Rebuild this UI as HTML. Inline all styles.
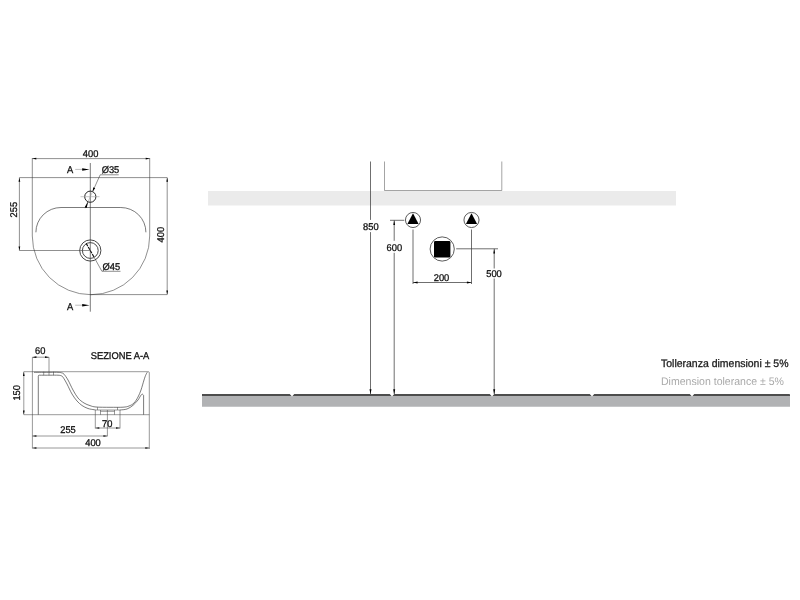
<!DOCTYPE html>
<html><head><meta charset="utf-8">
<style>
html,body{margin:0;padding:0;background:#fff;}
body{width:800px;height:600px;overflow:hidden;font-family:"Liberation Sans",sans-serif;}
svg{display:block;transform:translateZ(0);will-change:transform;}
text{font-family:"Liberation Sans",sans-serif;text-rendering:geometricPrecision;}
</style></head><body>
<svg width="800" height="600" viewBox="0 0 800 600">
<rect width="800" height="600" fill="#fff"/>

<!-- ===== installation view ===== -->
<rect x="208" y="191" width="468" height="14.5" fill="#ebebeb"/>
<!-- floor -->
<g id="floor">
<path d="M202,406.8 V394 H789 Q790,394 790,395 V406.8 Z" fill="#b1b2b4"/>
<path d="M202,394 H789 Q790,394 790,395 V396 H202 Z" fill="#4d4d4d"/>
<path d="M289.3,393.5 L292,396.4 L294.7,393.5 Z M389.3,393.5 L392,396.4 L394.7,393.5 Z M489.3,393.5 L492,396.4 L494.7,393.5 Z M589.3,393.5 L592,396.4 L594.7,393.5 Z M689.3,393.5 L692,396.4 L694.7,393.5 Z" fill="#fff"/>
</g>
<g fill="none" stroke="#3f3f3f" stroke-width="0.75">
<!-- basin outline -->
<path d="M384.5,161.5 V190.5 H501.8 V161.5" stroke="#666" stroke-width="0.6"/>
<!-- 850 -->
<path d="M370.5,161.5 V219.9 M370.5,232.1 V394"/>
<!-- 600 -->
<path d="M390,220.3 H404.3 M394.2,220.3 V240.8 M394.2,252.8 V394"/>
<!-- tri verticals + 200 -->
<path d="M413,229.5 V284 M471.5,229.5 V284 M413,282.5 H471.5"/>
<!-- 500 -->
<path d="M456.2,248.8 H498 M494.2,248.8 V268.5 M494.2,278.5 V394"/>
<circle cx="413" cy="220" r="7.55" stroke-width="0.85"/>
<circle cx="471.5" cy="220" r="7.55" stroke-width="0.85"/>
<circle cx="442.2" cy="249" r="12.1" stroke-width="0.85"/>
</g>
<g fill="#000">
<path d="M413,213.3 L418.6,224 H407.4 Z"/>
<path d="M471.5,213.3 L477.1,224 H465.9 Z"/>
<rect x="434" y="241" width="16.4" height="16.4" rx="1.2"/>
<!-- arrows -->
<path d="M370.5,394.3 l-1,-5 h2 Z M394.2,394.3 l-1,-5 h2 Z M494.2,394.3 l-1,-5 h2 Z"/>
<path d="M394.2,220.4 l-0.9,4.6 h1.8 Z M494.2,249 l-0.9,4.6 h1.8 Z"/>
<path d="M413,282.5 l4.6,-0.9 v1.8 Z M471.5,282.5 l-4.6,-0.9 v1.8 Z"/>
</g>
<g font-size="9.8" stroke="#111" stroke-width="0.3" fill="#111" text-anchor="middle">
<text transform="translate(370.8,230.3) scale(0.95,1)">850</text>
<text transform="translate(394.3,250.7) scale(0.95,1)">600</text>
<text transform="translate(441.5,280.8) scale(0.95,1)">200</text>
<text transform="translate(494.0,276.6) scale(0.95,1)">500</text>
</g>
<text x="661" y="366.6" font-size="11" fill="#222" stroke="#222" stroke-width="0.3" textLength="127.5" lengthAdjust="spacingAndGlyphs">Tolleranza dimensioni ± 5%</text>
<text x="661" y="385.2" font-size="11" fill="#a9a9a9" textLength="123" lengthAdjust="spacingAndGlyphs">Dimension tolerance ± 5%</text>

<!-- ===== top view ===== -->
<g fill="none" stroke="#333" stroke-width="0.55">
<!-- 400 horizontal dim -->
<path d="M32.3,158.6 H149.7 M32.3,158 V236 M149.7,158 V236"/>
<!-- top line -->
<path d="M19.4,177.6 H167.2"/>
<!-- 255 dim -->
<path d="M19.4,177.6 V250.5 H90.3"/>
<!-- 400 vertical dim -->
<path d="M167.2,177.6 V294.6 H90.3"/>
<!-- outer shape -->
<path d="M32.3,236 A58.7,58.7 0 0 0 149.7,236"/>
<!-- center line -->
<path d="M90.3,163 V311.7" stroke="#333" stroke-width="0.65"/>
<!-- inner basin -->
<path d="M35.9,232.3 A25.1,24.8 0 0 1 61,207.5 H120.8 A25.1,24.8 0 0 1 145.9,232.3" stroke="#333" stroke-width="0.65"/>
<!-- tap hole -->
<circle cx="90.3" cy="196.7" r="5.6" stroke="#222" stroke-width="1"/>
<path d="M80.5,196.7 H99.5" stroke="#999"/>
<!-- drain -->
<circle cx="90.3" cy="250.5" r="10.6" stroke="#333" stroke-width="0.9"/>
<circle cx="90.3" cy="250.5" r="7.9" stroke="#333" stroke-width="0.9"/>
<!-- leaders -->
<path d="M118.7,174.8 H100.2 L92.6,191.6 M88,201.8 L85.2,208.2"/><path d="M92.6,191.6 L88,201.8" stroke="#999"/>
<path d="M120.5,271.3 H101.9 L94.2,257.4"/>
<!-- section arrows -->
<path d="M75.2,169.4 H84 M75.2,305.2 H84" stroke="#888"/>
</g>
<g fill="#000">
<path d="M89.6,169.4 l-7.4,-1.25 v2.5 Z M89.6,305.2 l-7.4,-1.25 v2.5 Z"/>
<path d="M32.3,158.6 l4,-0.85 v1.7 Z M149.7,158.6 l-4,-0.85 v1.7 Z"/>
<path d="M19.4,177.8 l-0.85,4 h1.7 Z M19.4,250.4 l-0.85,-4 h1.7 Z"/>
<path d="M167.2,177.8 l-0.85,4 h1.7 Z M167.2,294.5 l-0.85,-4 h1.7 Z"/>
<!-- leader arrows -->
<path d="M92.5,191.8 l2.7,-3.6 l-1.9,-0.9 Z M88.1,201.6 l-3.4,5.6 l2,0.9 Z"/>
<path d="M86.2,243.4 L94.3,257.6" stroke="#111" stroke-width="1.15" stroke-dasharray="3.2 0.9" fill="none"/>
</g>
<g font-size="9.8" stroke="#111" stroke-width="0.3" fill="#111">
<text transform="translate(90.6,156.6) scale(0.95,1)" text-anchor="middle">400</text>
<text transform="translate(67.0,172.6) scale(0.95,1)">A</text>
<text transform="translate(67.0,309.8) scale(0.95,1)">A</text>
<text transform="translate(101.7,173.0) scale(0.95,1)">Ø35</text>
<text transform="translate(102.6,269.8) scale(0.95,1)">Ø45</text>
<text transform="translate(16.7,209.7) rotate(-90) scale(0.95,1)" text-anchor="middle">255</text>
<text transform="translate(163.7,234.7) rotate(-90) scale(0.95,1)" text-anchor="middle">400</text>
</g>

<!-- ===== section view ===== -->
<g fill="none" stroke="#444" stroke-width="0.55">
<!-- 60 dim -->
<path d="M32.4,357.2 H49 M49,357.2 V375.2"/>
<!-- left ext -->
<path d="M32.4,357.2 V448.5"/>
<!-- top & bottom lines -->
<path d="M23.8,371.7 H148.3 Q149.3,371.7 149.3,372.7 V449"/>
<path d="M23.8,414.7 H149.3"/>
<path d="M23.8,371.7 V414.7"/>
<!-- inner cavity -->
<path d="M38.3,414.7 V376.2 Q38.3,375.2 39.3,375.2 C41.1,375.2 46.9,375.2 50.0,375.2 C53.1,375.2 56.2,375.1 58.0,375.2 C59.8,375.3 60.2,375.4 61.0,375.7 C61.8,376.0 62.0,375.8 63.0,377.2 C64.0,378.6 65.5,381.2 67.0,384.0 C68.5,386.8 70.3,391.2 72.0,394.0 C73.7,396.8 75.3,399.1 77.0,401.0 C78.7,402.9 80.2,404.2 82.0,405.5 C83.8,406.8 86.0,407.8 88.0,408.5 C90.0,409.2 92.8,409.5 94.0,409.7 C95.2,409.9 95.1,409.9 95.3,409.9" stroke="#333" stroke-width="0.65"/>
<!-- upper curve -->
<path d="M34.0,372.3 C36.7,372.3 46.0,372.3 50.0,372.3 C54.0,372.3 56.1,372.2 58.0,372.3 C59.9,372.4 60.5,372.5 61.5,372.8 C62.5,373.1 62.9,373.0 64.0,374.2 C65.1,375.4 66.5,377.4 68.0,380.0 C69.5,382.6 71.3,387.0 73.0,390.0 C74.7,393.0 76.2,395.8 78.0,398.0 C79.8,400.2 82.0,401.7 84.0,403.0 C86.0,404.3 88.0,404.9 90.0,405.6 C92.0,406.3 92.7,406.7 96.0,407.0 C99.3,407.3 105.5,407.3 110.0,407.3 C114.5,407.3 119.8,407.4 123.0,407.2 C126.2,407.0 127.2,406.7 129.0,406.0 C130.8,405.3 132.5,404.5 134.0,403.0 C135.5,401.5 136.8,399.2 138.0,397.0 C139.2,394.8 140.0,392.8 141.0,390.0 C142.0,387.2 143.2,382.6 144.0,380.0 C144.8,377.4 145.4,375.8 146.0,374.5 C146.6,373.2 147.1,372.6 147.3,372.2" stroke="#333" stroke-width="0.65"/>
<!-- tap hole -->
<path d="M43.7,371.7 V375.2 M53.5,371.7 V375.2" stroke="#444"/>
<!-- lower right curve -->
<path d="M120.0,410.0 C121.2,409.8 124.8,409.8 127.0,409.0 C129.2,408.2 131.2,406.8 133.0,405.3 C134.8,403.8 136.7,401.7 138.0,400.0 C139.3,398.3 140.2,396.2 141.0,395.2 C141.8,394.2 142.1,394.1 142.5,394.2 C142.9,394.2 143.4,395.3 143.6,395.5 V414.7" stroke="#333" stroke-width="0.65"/>
<!-- drain -->
<path d="M97.5,407.2 V410 H117.5 V407.2 M95.3,410 H97.5 M117.5,410 H120 M100.5,410 V414.7 M114.5,410 V414.7 M100.5,411.3 H114.5" stroke="#444"/>
<path d="M95.3,409.8 V428.5 M120,410 V428.5 M107.4,410 V436.3"/>
<!-- 70 -->
<path d="M95.3,428 H120"/>
<!-- 255 -->
<path d="M32.4,436 H107.4"/>
<!-- 400 -->
<path d="M32.4,448 H149.3"/>
</g>
<g fill="#000">
<path d="M32.4,357.2 l4,-0.85 v1.7 Z M49,357.2 l-4,-0.85 v1.7 Z"/>
<path d="M23.8,371.9 l-0.85,4 h1.7 Z M23.8,414.5 l-0.85,-4 h1.7 Z"/>
<path d="M95.3,428 l4,-0.85 v1.7 Z M120,428 l-4,-0.85 v1.7 Z"/>
<path d="M32.4,436 l4,-0.85 v1.7 Z M107.4,436 l-4,-0.85 v1.7 Z"/>
<path d="M32.4,448 l4,-0.85 v1.7 Z M149.3,448 l-4,-0.85 v1.7 Z"/>
</g>
<g font-size="9.8" stroke="#111" stroke-width="0.3" fill="#111" text-anchor="middle">
<text transform="translate(40.3,354.0) scale(0.95,1)">60</text>
<text transform="translate(120.0,358.8) scale(0.95,1)">SEZIONE A-A</text>
<text transform="translate(107.3,426.9) scale(0.95,1)">70</text>
<text transform="translate(68.0,433.2) scale(0.95,1)">255</text>
<text transform="translate(93.0,446.3) scale(0.95,1)">400</text>
<text transform="translate(20.2,392.8) rotate(-90) scale(0.95,1)">150</text>
</g>
</svg>
</body></html>
